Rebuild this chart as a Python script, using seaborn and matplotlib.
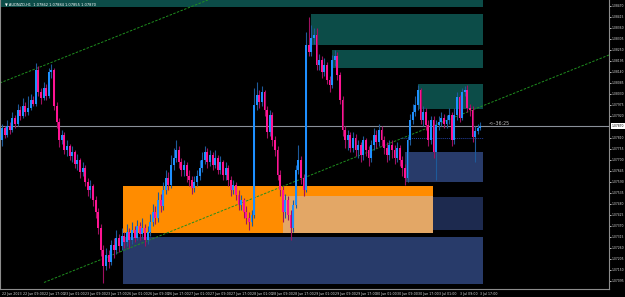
# MT4-style AUDNZD H1 candlestick chart with supply/demand zones

import numpy as np
import matplotlib
matplotlib.use("Agg")
import matplotlib.pyplot as plt
from matplotlib.patches import Rectangle
from matplotlib.transforms import blended_transform_factory
import seaborn as sns

# --- data ---
title_text = "AUDNZD,H1  1.07862 1.07884 1.07855 1.07870"
first_open = 1.0780
closes = [
    1.0786, 1.07825, 1.0787, 1.0785, 1.0791, 1.0788, 1.0795, 1.0792, 1.0797, 1.0794,
    1.0796, 1.0800, 1.0798, 1.0815, 1.0804, 1.0801, 1.0806, 1.0802, 1.0814, 1.0815,
    1.0797, 1.0789, 1.0780, 1.07825, 1.0775, 1.0777, 1.0772, 1.0774, 1.0768, 1.0770,
    1.0764, 1.0766, 1.0759, 1.0755, 1.0757, 1.0750, 1.0744, 1.0736, 1.0725, 1.0717,
    1.07225, 1.0719, 1.07275, 1.0725, 1.0731, 1.0727, 1.0732, 1.0729, 1.0734, 1.0730,
    1.0735, 1.0731, 1.0737, 1.0733, 1.0736, 1.0730, 1.0734, 1.0739, 1.0744, 1.0741,
    1.0750, 1.0747, 1.0755, 1.0761, 1.07575, 1.07675, 1.0771, 1.0775, 1.0769, 1.0765,
    1.07675, 1.0762, 1.0760, 1.0756, 1.0759, 1.0762, 1.0766, 1.0770, 1.0774, 1.0769,
    1.07725, 1.07675, 1.0771, 1.0765, 1.0769, 1.07625, 1.0766, 1.0760, 1.0755, 1.07575,
    1.07525, 1.07475, 1.0750, 1.0744, 1.0741, 1.0739, 1.07425, 1.07975, 1.08025, 1.0799,
    1.0804, 1.0795, 1.0784, 1.07925, 1.0780, 1.0775, 1.07625, 1.0755, 1.0744, 1.0750,
    1.07425, 1.0736, 1.07475, 1.0765, 1.0770, 1.0761, 1.0755, 1.08275, 1.0824, 1.0831,
    1.08325, 1.08175, 1.0820, 1.0814, 1.08175, 1.0810, 1.08075, 1.0820, 1.0822, 1.08125,
    1.0800, 1.0785, 1.0780, 1.07825, 1.0776, 1.0781, 1.0775, 1.07775, 1.07725, 1.0780,
    1.0775, 1.0771, 1.07775, 1.07825, 1.0779, 1.0785, 1.0780, 1.0776, 1.07725, 1.07775,
    1.0775, 1.0771, 1.0776, 1.0770, 1.0766, 1.0761, 1.0780, 1.0790, 1.0794, 1.07975,
    1.0805, 1.0790, 1.0794, 1.07875, 1.0780, 1.0790, 1.0774, 1.07875, 1.0789, 1.0791,
    1.0788, 1.0790, 1.07925, 1.0780, 1.07925, 1.08015, 1.0791, 1.0804, 1.0805, 1.0796,
    1.0795, 1.07815, 1.07845, 1.0786, 1.0787,
]
highs = [
    1.0788, 1.0787, 1.0790, 1.0789, 1.0794, 1.07925, 1.0798, 1.0797, 1.0801, 1.0799,
    1.0802, 1.0803, 1.0802, 1.08185, 1.0817, 1.0806, 1.0809, 1.0808, 1.0816, 1.0818,
    1.0816, 1.0799, 1.0791, 1.0785, 1.0784, 1.0780, 1.0778, 1.0777, 1.0775, 1.0773,
    1.0771, 1.0769, 1.07675, 1.0761, 1.0760, 1.0758, 1.0752, 1.0746, 1.0738, 1.07275,
    1.0726, 1.0725, 1.0730, 1.0731, 1.0735, 1.0733, 1.0736, 1.0734, 1.0738, 1.0736,
    1.0739, 1.0737, 1.0740, 1.0739, 1.0741, 1.0738, 1.0737, 1.0743, 1.0748, 1.0747,
    1.0754, 1.0753, 1.0759, 1.0765, 1.0764, 1.07725, 1.0776, 1.0780, 1.0777, 1.0771,
    1.0770, 1.0769, 1.0765, 1.0762, 1.0762, 1.0765, 1.0770, 1.0774, 1.0777, 1.0776,
    1.0775, 1.0774, 1.0775, 1.07725, 1.0772, 1.0770, 1.0769, 1.07675, 1.0762, 1.0760,
    1.0759, 1.0755, 1.07525, 1.0751, 1.0747, 1.0744, 1.0745, 1.0806, 1.0809, 1.0805,
    1.0807, 1.0805, 1.0797, 1.0795, 1.0794, 1.0782, 1.0777, 1.0765, 1.0757, 1.0753,
    1.0752, 1.0745, 1.0750, 1.07675, 1.07775, 1.0772, 1.0763, 1.0834, 1.08415, 1.08375,
    1.0836, 1.0836, 1.0823, 1.0822, 1.0821, 1.0819, 1.0812, 1.08225, 1.0825, 1.0824,
    1.0814, 1.0802, 1.0787, 1.0785, 1.0784, 1.0784, 1.0783, 1.0780, 1.0779, 1.0782,
    1.0781, 1.0777, 1.0780, 1.0786, 1.0785, 1.0788, 1.0787, 1.0782, 1.0779, 1.0780,
    1.0780, 1.07775, 1.0779, 1.07775, 1.0772, 1.0768, 1.0782, 1.0793, 1.0798, 1.0802,
    1.08075, 1.0806, 1.0797, 1.0796, 1.0790, 1.0792, 1.0792, 1.0790, 1.0792, 1.0794,
    1.0793, 1.07925, 1.0796, 1.0794, 1.0796, 1.0804, 1.08025, 1.0806, 1.0807, 1.08075,
    1.0798, 1.0797, 1.0787, 1.0788, 1.0789,
]
lows = [
    1.0777, 1.0781, 1.07815, 1.0783, 1.0784, 1.0786, 1.0787, 1.0790, 1.0791, 1.0792,
    1.07925, 1.0795, 1.0797, 1.0797, 1.0802, 1.0798, 1.0800, 1.0800, 1.0801, 1.0811,
    1.0795, 1.0786, 1.07765, 1.0778, 1.0773, 1.0772, 1.0770, 1.0769, 1.0766, 1.0765,
    1.0761, 1.0762, 1.0757, 1.0752, 1.0751, 1.0747, 1.0741, 1.0733, 1.0722, 1.07085,
    1.0715, 1.0716, 1.07175, 1.0721, 1.0723, 1.0724, 1.0725, 1.0726, 1.0727, 1.0726,
    1.0728, 1.0729, 1.0730, 1.0730, 1.0731, 1.0727, 1.0728, 1.0732, 1.0737, 1.0738,
    1.0739, 1.0744, 1.0745, 1.0753, 1.0755, 1.0756, 1.0765, 1.0769, 1.0766, 1.0762,
    1.0762, 1.0759, 1.0757, 1.0753, 1.0754, 1.0757, 1.0760, 1.0764, 1.0768, 1.0766,
    1.0767, 1.0765, 1.0766, 1.0763, 1.0763, 1.0760, 1.0760, 1.0757, 1.0752, 1.0753,
    1.0750, 1.0745, 1.0745, 1.0741, 1.0738, 1.0735, 1.0737, 1.0741, 1.0795, 1.0796,
    1.0797, 1.0792, 1.0781, 1.0782, 1.0777, 1.0772, 1.0760, 1.0752, 1.0739, 1.0741,
    1.0740, 1.0730, 1.0734, 1.0746, 1.0763, 1.0758, 1.0752, 1.0754, 1.0822, 1.0822,
    1.0828, 1.0815, 1.0815, 1.0811, 1.0812, 1.0808, 1.0804, 1.0806, 1.0817, 1.0810,
    1.0798, 1.0782, 1.0776, 1.0775, 1.0774, 1.0774, 1.0772, 1.0771, 1.0769, 1.0770,
    1.0772, 1.0767, 1.0769, 1.0775, 1.0776, 1.0777, 1.0777, 1.0773, 1.0769, 1.0770,
    1.0771, 1.0768, 1.0769, 1.0767, 1.0762, 1.07575, 1.0759, 1.07775, 1.0788, 1.0792,
    1.0795, 1.0788, 1.0787, 1.0785, 1.0777, 1.0778, 1.0771, 1.0760, 1.0785, 1.0787,
    1.0786, 1.0786, 1.0788, 1.0777, 1.0778, 1.0790, 1.0789, 1.0790, 1.0802, 1.0794,
    1.0792, 1.0779, 1.0769, 1.0783, 1.0785,
]
time_labels = [
    "22 Jun 2023", "22 Jun 09:00", "22 Jun 17:00", "23 Jun 01:00", "23 Jun 09:00",
    "23 Jun 17:00", "26 Jun 01:00", "26 Jun 09:00", "26 Jun 17:00", "27 Jun 01:00",
    "27 Jun 09:00", "27 Jun 17:00", "28 Jun 01:00", "28 Jun 09:00", "28 Jun 17:00",
    "29 Jun 01:00", "29 Jun 09:00", "29 Jun 17:00", "30 Jun 01:00", "30 Jun 09:00",
    "30 Jun 17:00", "3 Jul 01:00", "3 Jul 09:00", "3 Jul 17:00",
]
price_ticks = [
    1.08470, 1.08415, 1.08360, 1.08305, 1.08250, 1.08195, 1.08140, 1.08085, 1.08030,
    1.07975, 1.07920, 1.07810, 1.07755, 1.07700, 1.07645, 1.07590, 1.07535, 1.07480,
    1.07425, 1.07370, 1.07315, 1.07260, 1.07205, 1.07150, 1.07095,
]
current_price = 1.0787
countdown = "<--36:25"

# zones (bar index start/end, price top/bottom)
zone_start = [-0.8, 118.8, 126.9, 160.0, 46.5, 108.1, 46.5, 165.8, 155.0]
zone_end = [185.2, 185.2, 185.2, 185.2, 165.8, 165.8, 185.2, 185.2, 185.2]
zone_top = [1.0855, 1.0843, 1.0825, 1.0808, 1.0757, 1.0752, 1.07315, 1.07515, 1.0774]
zone_bottom = [1.08465, 1.08275, 1.0816, 1.07955, 1.07335, 1.07335, 1.0708, 1.0735, 1.0759]
zone_colors = ['#0c4c48', '#0c4c48', '#0c4c48', '#0c4c48', '#ff8c00', '#e3a766',
               '#283b6a', '#1d2a4f', '#283b6a']

# trend lines (bar index, price)
trend_x = [[-0.8, 79.2], [16.15, 233.5]]
trend_y = [[1.08085, 1.0850], [1.070875, 1.08225]]

sns.set_theme(style="dark", rc={"axes.facecolor": "black", "figure.facecolor": "black"})
plt.rcParams['font.family'] = ['DejaVu Sans']

fig = plt.figure(figsize=(6.25, 2.97), dpi=100)
ax = fig.add_axes([0, 0.027, 0.9744, 0.973])
ax.set_facecolor('black')
ax.grid(False)

for x0, x1, top, bot, col in zip(zone_start, zone_end, zone_top, zone_bottom, zone_colors):
    ax.add_patch(Rectangle((x0, bot), x1 - x0, top - bot, facecolor=col,
                           edgecolor='none', zorder=1))

for xs, ys in zip(trend_x, trend_y):
    ax.plot(xs, ys, color='#1f8f1f', lw=0.7, ls=(0, (2.5, 1.5)), zorder=2)

ax.axhline(current_price, color='#8a9099', lw=0.8, zorder=2)
ax.plot([153, 185], [1.0781, 1.0781], color='#2340a0', lw=0.7, ls=(0, (1, 1)), zorder=2)

# candles
o = np.array([first_open] + closes[:-1])
c = np.array(closes)
h = np.array(highs)
l = np.array(lows)
idx = np.arange(len(c))
up = c >= o
dn = ~up
body_lo = np.minimum(o, c)
body_h = np.maximum(np.abs(c - o), 0.00003)

ax.vlines(idx[up], l[up], h[up], color='#1d5a9a', lw=0.8, zorder=3)
ax.vlines(idx[dn], l[dn], h[dn], color='#a01060', lw=0.8, zorder=3)
ax.bar(idx[up], body_h[up], bottom=body_lo[up], width=0.72, color='#1e90ff',
       linewidth=0, zorder=4)
ax.bar(idx[dn], body_h[dn], bottom=body_lo[dn], width=0.72, color='#ff1493',
       linewidth=0, zorder=4)

ax.set_xlim(-0.77, 233.5)
ax.set_ylim(1.07055, 1.0850)

# axes styling
ax.spines['top'].set_visible(False)
for side in ['left', 'right', 'bottom']:
    ax.spines[side].set_color('#8c8c8c')
    ax.spines[side].set_linewidth(0.8)

ax.yaxis.tick_right()
ax.set_yticks(price_ticks)
ax.set_yticklabels([f"{p:.5f}" for p in price_ticks])
ax.tick_params(axis='y', colors='#d8d8d8', labelsize=2.15, length=1.2, width=0.6, pad=0.5)

ax.set_xticks(np.arange(0, len(c), 8))
ax.set_xticklabels(time_labels, ha='left')
ax.tick_params(axis='x', colors='#d8d8d8', labelsize=2.3, length=1.5, width=0.6, pad=0.6)

# current price label on the scale
trans = blended_transform_factory(ax.transAxes, ax.transData)
ax.text(1.004, current_price, f"{current_price:.5f}", transform=trans, fontsize=2.15,
        color='black', va='center', ha='left',
        bbox=dict(boxstyle='square,pad=0.2', fc='white', ec='none'), clip_on=False)

ax.text(187.3, current_price + 0.0001, countdown, fontsize=3.4, color='#c0c0c0',
        va='center', ha='left', zorder=5)

fig.text(0.008, 0.992, "\u25bc " + title_text, fontsize=2.6, color='white',
         va='top', ha='left')

fig.savefig('out.png', dpi=100, facecolor='black')
